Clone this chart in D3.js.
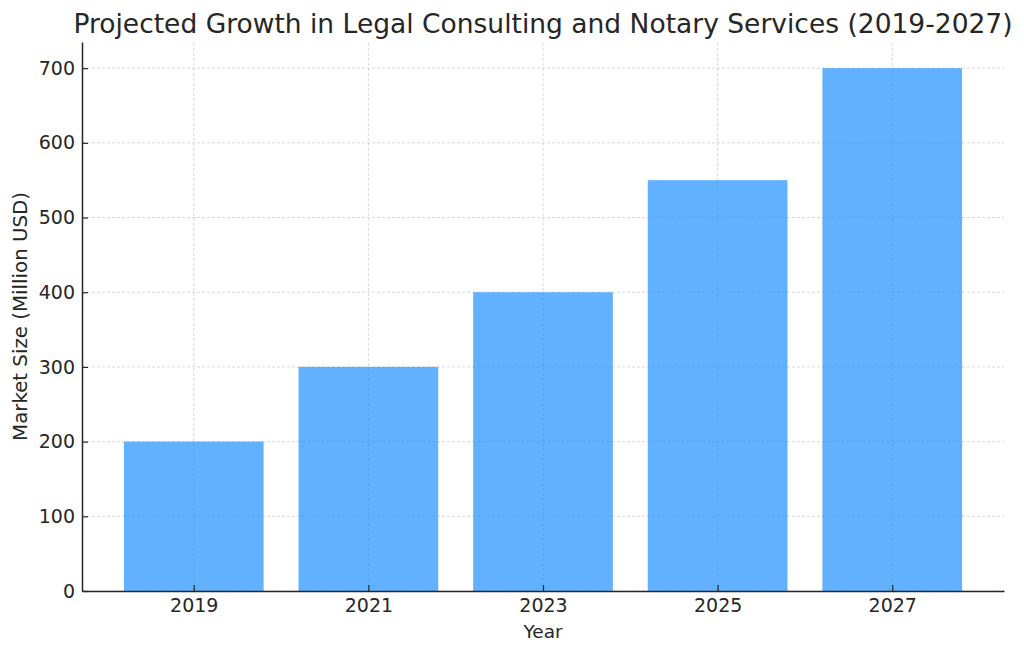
<!DOCTYPE html>
<html lang="en">
<head>
    <meta charset="UTF-8">
    <title>Projected Growth in Legal Consulting and Notary Services</title>
    <style>
        body { margin: 0; background: #fff; }
        svg text { font-family: "DejaVu Sans", sans-serif; fill: #262626; }
    </style>
    <script src="https://d3js.org/d3.v7.min.js"></script>
</head>
<body>
    <div id="chart"></div>
    <script>
        // data
        const years = [2019, 2021, 2023, 2025, 2027];
        const marketSize = [200, 300, 400, 550, 700];
        const yTicks = [0, 100, 200, 300, 400, 500, 600, 700];

        const W = 1024, H = 655;
        const margin = { left: 82, right: 20, top: 42, bottom: 64 };

        const svg = d3.select("#chart")
            .append("svg")
            .attr("width", W)
            .attr("height", H);

        // matplotlib style limits: bar width 1.6, 5% padding
        const x = d3.scaleLinear()
            .domain([2017.72, 2028.28])
            .range([margin.left, W - margin.right]);
        const y = d3.scaleLinear()
            .domain([0, 735])
            .range([H - margin.bottom, margin.top]);

        // grid
        const grid = svg.append("g");
        grid.selectAll(".gy").data(yTicks).enter()
            .append("line")
            .attr("x1", x.range()[0]).attr("x2", x.range()[1])
            .attr("y1", d => y(d)).attr("y2", d => y(d))
            .attr("stroke", "#b0b0b0").attr("stroke-width", 0.8)
            .attr("stroke-dasharray", "3,2").attr("opacity", 0.6);
        grid.selectAll(".gx").data(years).enter()
            .append("line")
            .attr("x1", d => x(d)).attr("x2", d => x(d))
            .attr("y1", y.range()[0]).attr("y2", y.range()[1])
            .attr("stroke", "#b0b0b0").attr("stroke-width", 0.8)
            .attr("stroke-dasharray", "3,2").attr("opacity", 0.6);

        // bars
        svg.selectAll(".bar").data(years).enter()
            .append("rect")
            .attr("x", d => x(d - 0.8))
            .attr("width", x(1.6) - x(0))
            .attr("y", (d, i) => y(marketSize[i]))
            .attr("height", (d, i) => y(0) - y(marketSize[i]))
            .attr("fill", "dodgerblue")
            .attr("fill-opacity", 0.7);

        // axes (ticks inward)
        const xAxis = svg.append("g")
            .attr("transform", `translate(0,${y(0)})`)
            .call(d3.axisBottom(x).tickValues(years).tickFormat(d3.format("d"))
                .tickSizeInner(-6).tickSizeOuter(0).tickPadding(8));
        const yAxis = svg.append("g")
            .attr("transform", `translate(${margin.left},0)`)
            .call(d3.axisLeft(y).tickValues(yTicks)
                .tickSizeInner(-6).tickSizeOuter(0).tickPadding(7));

        [xAxis, yAxis].forEach(a => {
            a.select(".domain").attr("stroke", "#262626").attr("stroke-width", 1.5);
            a.selectAll(".tick line").attr("stroke", "#262626").attr("stroke-width", 1.2);
            a.selectAll(".tick text").attr("font-size", 19).attr("fill", "#262626")
                .style("font-family", "DejaVu Sans");
        });

        // labels
        svg.append("text")
            .attr("x", (x.range()[0] + x.range()[1]) / 2)
            .attr("y", 638)
            .attr("text-anchor", "middle")
            .attr("font-size", 18.5)
            .text("Year");

        svg.append("text")
            .attr("transform", `translate(27,${(194 + 439) / 2}) rotate(-90)`)
            .attr("text-anchor", "middle")
            .attr("font-size", 19.8)
            .text("Market Size (Million USD)");

        svg.append("text")
            .attr("x", 543)
            .attr("y", 33)
            .attr("text-anchor", "middle")
            .attr("font-size", 26.5)
            .attr("fill", "#333")
            .text("Projected Growth in Legal Consulting and Notary Services (2019-2027)");
    </script>
</body>
</html>
